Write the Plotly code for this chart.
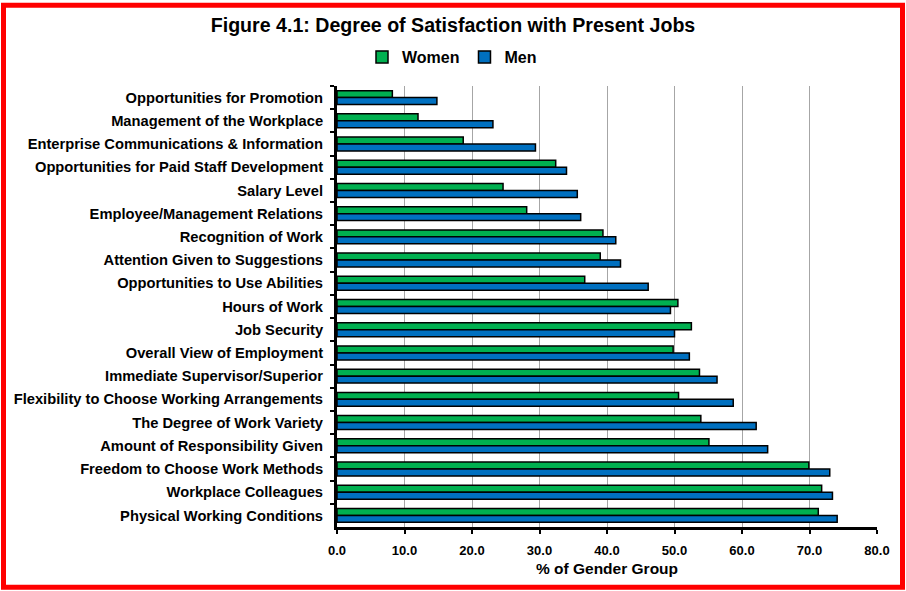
import plotly.graph_objects as go

categories = [
    "Opportunities for Promotion",
    "Management of the Workplace",
    "Enterprise Communications & Information",
    "Opportunities for Paid Staff Development",
    "Salary Level",
    "Employee/Management Relations",
    "Recognition of Work",
    "Attention Given to Suggestions",
    "Opportunities to Use Abilities",
    "Hours of Work",
    "Job Security",
    "Overall View of Employment",
    "Immediate Supervisor/Superior",
    "Flexibility to Choose Working Arrangements",
    "The Degree of Work Variety",
    "Amount of Responsibility Given",
    "Freedom to Choose Work Methods",
    "Workplace Colleagues",
    "Physical Working Conditions",
]
women = [8.2, 12.0, 18.7, 32.4, 24.6, 28.1, 39.4, 39.0, 36.7, 50.5, 52.5, 49.8,
         53.7, 50.6, 53.9, 55.1, 69.9, 71.8, 71.3]
men = [14.8, 23.1, 29.4, 34.0, 35.6, 36.1, 41.3, 42.0, 46.1, 49.4, 50.0, 52.2,
       56.3, 58.7, 62.1, 63.8, 73.0, 73.4, 74.1]
x_ticks = [0, 10, 20, 30, 40, 50, 60, 70, 80]
x_ticklabels = ["0.0", "10.0", "20.0", "30.0", "40.0", "50.0", "60.0", "70.0", "80.0"]

FONT = "Arial, Liberation Sans, sans-serif"
W, H = 906, 591
L, R, T, B = 337, 29, 84, 64
pw, ph = W - L - R, H - T - B

fig = go.Figure()
fig.add_trace(go.Bar(y=categories, x=women, orientation="h", name="Women",
                     marker=dict(color="#00B050", line=dict(color="black", width=1.5))))
fig.add_trace(go.Bar(y=categories, x=men, orientation="h", name="Men",
                     marker=dict(color="#0070C0", line=dict(color="black", width=1.5))))

def px_x(p):
    return (p - L) / pw

def px_y(p):
    return (H - B - p) / ph

fig.update_layout(
    width=W, height=H,
    margin=dict(l=L, r=R, t=T, b=B),
    paper_bgcolor="white", plot_bgcolor="white",
    barmode="group", bargap=0.4, bargroupgap=0,
    font=dict(family=FONT, color="black"),
    title=dict(text="Figure 4.1: Degree of Satisfaction with Present Jobs",
               x=0.5, xanchor="center", y=1 - 25 / H, yanchor="middle",
               font=dict(size=19.6, weight="bold", family=FONT)),
    legend=dict(orientation="h", xref="container", x=452 / W, xanchor="center",
                yref="container", y=1 - 57 / H, yanchor="middle",
                font=dict(size=16, weight="bold", family=FONT),
                itemwidth=30, traceorder="normal", bgcolor="rgba(0,0,0,0)"),
    xaxis=dict(range=[0, 80], tickvals=x_ticks, ticktext=x_ticklabels,
               showgrid=True, gridcolor="#a6a6a6", gridwidth=1,
               showline=True, linecolor="black", linewidth=3,
               ticks="outside", ticklen=4, tickwidth=2, tickcolor="black",
               tickfont=dict(size=13, weight="bold", family=FONT),
               ticklabelstandoff=5,
               title=dict(text="% of Gender Group", standoff=7,
                          font=dict(size=15.5, weight="bold", family=FONT)),
               zeroline=False, fixedrange=True),
    yaxis=dict(autorange="reversed", showline=True, linecolor="black", linewidth=3,
               ticks="outside", ticklen=4, tickwidth=2, tickcolor="black",
               tickson="boundaries", showgrid=False,
               tickfont=dict(size=14.7, weight="bold", family=FONT),
               ticklabelstandoff=8, fixedrange=True),
    shapes=[dict(type="rect", xref="paper", yref="paper",
                 x0=px_x(3.5), x1=px_x(W - 3.5), y0=px_y(H - 3.5), y1=px_y(3),
                 line=dict(color="red", width=5), fillcolor="rgba(0,0,0,0)", layer="above")],
)

fig.write_html("out.html", config={"displayModeBar": False},
               post_script="document.body.style.margin='0';document.body.style.overflow='hidden';")
